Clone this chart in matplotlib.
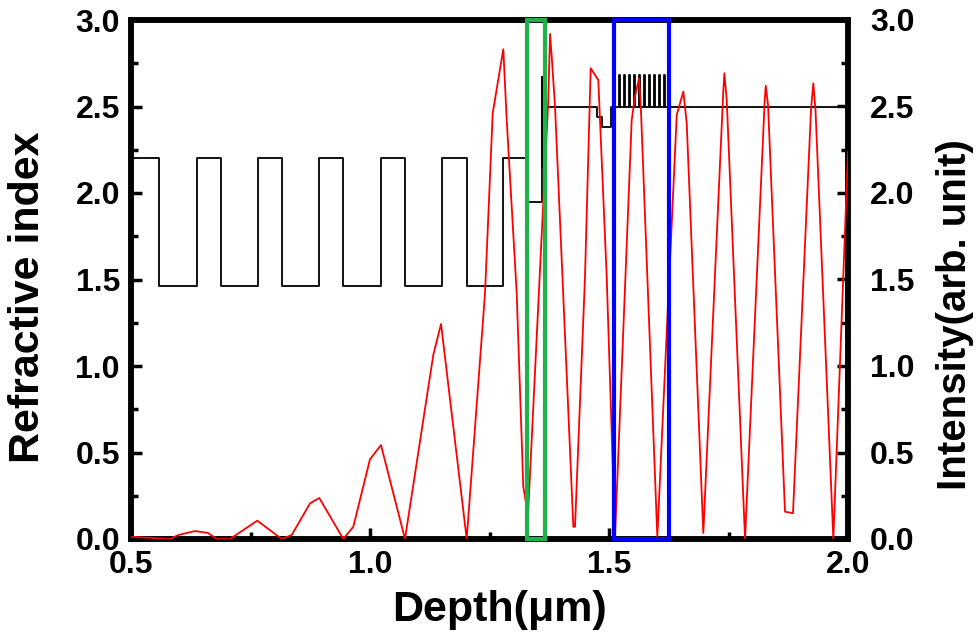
import matplotlib
matplotlib.use('Agg')
import matplotlib.pyplot as plt
from matplotlib.patches import Rectangle
from matplotlib.ticker import MultipleLocator, FormatStrFormatter

plt.rcParams['font.family'] = ['Liberation Sans', 'DejaVu Sans']
plt.rcParams['font.weight'] = 'bold'

# Refractive index profile: layer start depth (um) and index of that layer
ri_depth = [0.5000, 0.5586, 0.6374, 0.6883, 0.7651, 0.8165, 0.8939, 0.9429,
            1.0224, 1.0732, 1.1500, 1.2023, 1.2789, 1.3285, 1.3592, 1.3606,
            1.3620, 1.4742, 1.4847, 1.5036,
            1.5216, 1.5231, 1.5321, 1.5336, 1.5425, 1.5440, 1.5530, 1.5545,
            1.5635, 1.5650, 1.5739, 1.5754, 1.5844, 1.5859, 1.5948, 1.5963,
            1.6053, 1.6068, 1.6158, 1.6173,
            2.0000]
ri_value = [2.20, 1.46, 2.20, 1.46, 2.20, 1.46, 2.20, 1.46,
            2.20, 1.46, 2.20, 1.46, 2.20, 1.95, 2.67, 2.15,
            2.50, 2.44, 2.38, 2.50,
            2.68, 2.50, 2.68, 2.50, 2.68, 2.50, 2.68, 2.50,
            2.68, 2.50, 2.68, 2.50, 2.68, 2.50, 2.68, 2.50,
            2.68, 2.50, 2.68, 2.50,
            2.50]

# Optical field intensity vs depth
int_depth = [0.5000, 0.5816, 0.5990, 0.6339, 0.6611, 0.6793, 0.7071, 0.7642,
             0.8153, 0.8362, 0.8745, 0.8939, 0.9442, 0.9651, 1.0000, 1.0230,
             1.0732, 1.1324, 1.1486, 1.2023, 1.2406, 1.2567, 1.2789, 1.2860,
             1.3069, 1.3207, 1.3306, 1.3730, 1.3766, 1.3802, 1.3871, 1.4254,
             1.4289, 1.4498, 1.4617, 1.4776, 1.4952, 1.5126, 1.5475, 1.5544,
             1.5628, 1.5663, 1.6011, 1.6417, 1.6555, 1.6626, 1.6973, 1.7392,
             1.7413, 1.7463, 1.7846, 1.8258, 1.8279, 1.8327, 1.8682, 1.8849,
             1.9226, 1.9274, 1.9320, 1.9693, 2.0000]
int_value = [0.013, 0.000, 0.023, 0.046, 0.035, 0.000, 0.000, 0.106,
             0.000, 0.023, 0.206, 0.237, 0.000, 0.071, 0.461, 0.543,
             0.000, 1.064, 1.243, 0.000, 1.420, 2.461, 2.831, 2.422,
             1.422, 0.302, 0.139, 2.538, 2.919, 2.788, 2.499, 0.071,
             0.071, 1.516, 2.721, 2.653, 1.516, 0.012, 2.422, 2.557,
             2.663, 2.518, 0.013, 2.451, 2.586, 2.403, 0.035, 2.595,
             2.692, 2.538, 0.000, 2.538, 2.620, 2.509, 0.158, 0.149,
             2.480, 2.634, 2.480, 0.000, 2.237]

# Highlighted regions (depth range)
green_box = (1.3285, 1.3668)
blue_box = (1.5099, 1.6250)

fig = plt.figure(figsize=(9.76, 6.39), dpi=100)
ax = fig.add_axes([131 / 976, 1 - 539 / 639, 717 / 976, 519 / 639])
ax2 = ax.twinx()

ax.step(ri_depth, ri_value, where='post', color='black', lw=1.3, zorder=2)
ax2.plot(int_depth, int_value, color='red', lw=1.3, zorder=3)

for (x0, x1), col in [(green_box, '#1fb24a'), (blue_box, '#0000ff')]:
    ax2.add_patch(Rectangle((x0, 0), x1 - x0, 3.0, fill=False, edgecolor=col,
                            lw=3.0, joinstyle='miter', clip_on=False, zorder=5))

ax.set_xlim(0.5, 2.0)
ax.set_ylim(0, 3.0)
ax2.set_ylim(0, 3.0)

for a in (ax, ax2):
    for s in a.spines.values():
        s.set_linewidth(4)
    a.yaxis.set_major_locator(MultipleLocator(0.5))
    a.yaxis.set_minor_locator(MultipleLocator(0.25))
    a.yaxis.set_major_formatter(FormatStrFormatter('%.1f'))

ax.xaxis.set_major_locator(MultipleLocator(0.5))
ax.xaxis.set_minor_locator(MultipleLocator(0.25))
ax.xaxis.set_major_formatter(FormatStrFormatter('%.1f'))

ax.tick_params(axis='x', which='both', direction='in', top=False, labelsize=23, pad=8)
ax.tick_params(axis='y', which='both', direction='in', right=False, labelsize=23, pad=8)
ax2.tick_params(axis='y', which='both', direction='in', labelsize=23, pad=16)
for a in (ax, ax2):
    a.tick_params(which='major', length=8, width=2.5)
    a.tick_params(which='minor', length=5, width=2.5)

fig.text(28 / 976, 1 - 297 / 639, 'Refractive index', rotation=90, ha='center',
         va='center', fontsize=31, fontweight='bold')
fig.text(955 / 976, 1 - 315 / 639, 'Intensity(arb. unit)', rotation=90, ha='center',
         va='center', fontsize=29, fontweight='bold')
fig.text(500 / 976, 1 - 610 / 639, 'Depth(μm)', ha='center', va='center',
         fontsize=31, fontweight='bold')

fig.savefig('out.png', dpi=100)
